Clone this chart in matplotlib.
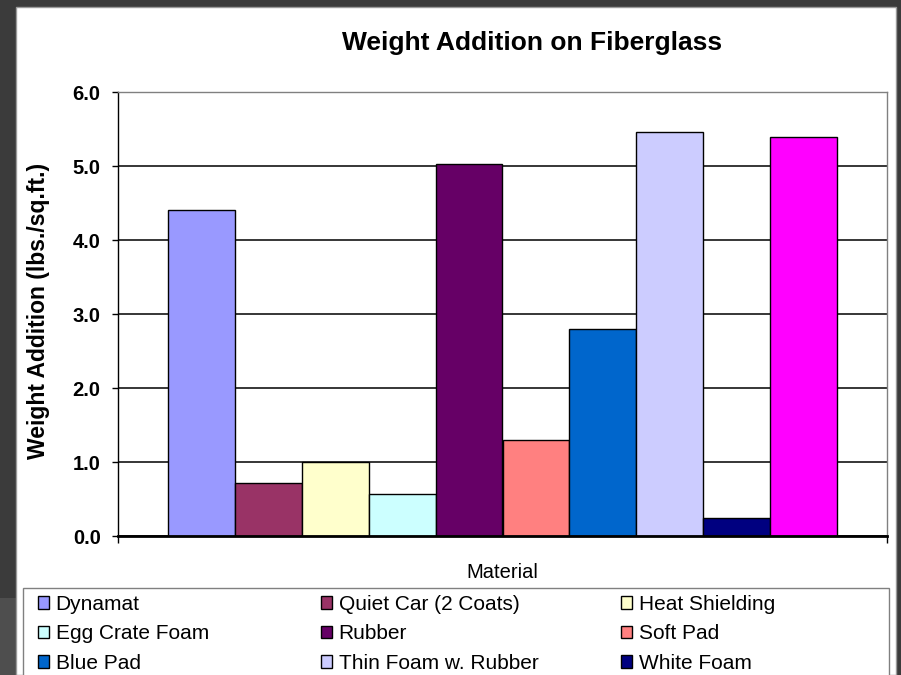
import matplotlib
matplotlib.use("Agg")
import matplotlib.pyplot as plt
from matplotlib.patches import Rectangle

# chart data
materials = ["Dynamat", "Quiet Car (2 Coats)", "Heat Shielding", "Egg Crate Foam",
             "Rubber", "Soft Pad", "Blue Pad", "Thin Foam w. Rubber", "White Foam", ""]
weights = [4.40, 0.72, 1.00, 0.57, 5.03, 1.30, 2.80, 5.46, 0.25, 5.39]
colors = ["#9999FF", "#993366", "#FFFFCC", "#CCFFFF", "#660066",
          "#FF8080", "#0066CC", "#CCCCFF", "#000080", "#FF00FF"]
y_ticks = [0, 1, 2, 3, 4, 5, 6]
y_tick_labels = ["0.0", "1.0", "2.0", "3.0", "4.0", "5.0", "6.0"]

title = "Weight Addition on Fiberglass"
x_label = "Material"
y_label = "Weight Addition (lbs./sq.ft.)"

plt.rcParams['font.family'] = ['Liberation Sans', 'DejaVu Sans']

W, H = 901, 675
fig = plt.figure(figsize=(W / 100, H / 100), dpi=100, facecolor="#3b3b3b")

# slide background: white panel on dark gray
fig.patches.append(Rectangle((0, 0), 16 / W, (H - 598) / H, transform=fig.transFigure,
                             facecolor="#4e4e4e", edgecolor="none", zorder=0))
fig.patches.append(Rectangle((16 / W, 0), (896 - 16) / W, (H - 7) / H, transform=fig.transFigure,
                             facecolor="white", edgecolor="#9a9a9a", linewidth=1, zorder=0))

# plot area
left, right, top, bottom = 118, 887, 92, 536
ax = fig.add_axes([left / W, 1 - bottom / H, (right - left) / W, (bottom - top) / H])
ax.set_zorder(1)
ax.set_facecolor("white")

n = len(weights)
bar_w = 1 / (n + 1.5)
xs = [0.75 * bar_w + (i + 0.5) * bar_w for i in range(n)]
bars = []
for x, v, c, m in zip(xs, weights, colors, materials):
    b = ax.bar(x, v, width=bar_w, color=c, edgecolor="black", linewidth=1, zorder=3, label=m)
    bars.append(b)

ax.set_xlim(0, 1)
ax.set_ylim(0, 6)
ax.set_yticks(y_ticks)
ax.set_yticklabels(y_tick_labels, fontsize=14.5, fontweight="bold")
ax.set_xticks([0, 1])
ax.set_xticklabels(["", ""])
ax.tick_params(axis="y", direction="out", length=4.5, width=1, pad=8)
ax.tick_params(axis="x", direction="out", length=5, width=1)

ax.yaxis.grid(True, color="black", linewidth=1.1, zorder=1)
ax.set_axisbelow(True)

ax.spines["left"].set_color("black")
ax.spines["left"].set_linewidth(1)
ax.spines["bottom"].set_color("black")
ax.spines["bottom"].set_linewidth(2)
ax.spines["bottom"].set_zorder(5)
for s in ["top", "right"]:
    ax.spines[s].set_color("#808080")
    ax.spines[s].set_linewidth(1)

ax.set_xlabel(x_label, fontsize=14.5, va="center")
ax.xaxis.set_label_coords(0.5, -(572 - bottom) / (bottom - top))
ax.set_ylabel(y_label, fontsize=16.5, fontweight="bold", va="center")
ax.yaxis.set_label_coords((38 - left) / (right - left), (bottom - 311) / (bottom - top))

fig.text(532 / W, 1 - 43 / H, title, fontsize=19, fontweight="bold", ha="center", va="center")

# legend: frame plus one column at a time (Excel lays entries row by row)
leg_top = 588
fig.patches.append(Rectangle((23 / W, -0.05), (889 - 23) / W, 0.05 + (H - leg_top) / H,
                             transform=fig.transFigure, facecolor="white",
                             edgecolor="#808080", linewidth=1, zorder=1))
col_x = [38, 321, 621]
for c in range(3):
    handles = [bars[i] for i in range(c, 9, 3)]
    labels = [materials[i] for i in range(c, 9, 3)]
    lg = fig.legend(handles, labels, loc="upper left",
                    bbox_to_anchor=(col_x[c] / W, 1 - (leg_top + 7) / H),
                    frameon=False, fontsize=15, handlelength=0.55, handleheight=0.55,
                    handletextpad=0.3, labelspacing=0.5, borderpad=0, borderaxespad=0)
    lg.set_zorder(2)

fig.savefig("out.png", dpi=100, facecolor=fig.get_facecolor())
